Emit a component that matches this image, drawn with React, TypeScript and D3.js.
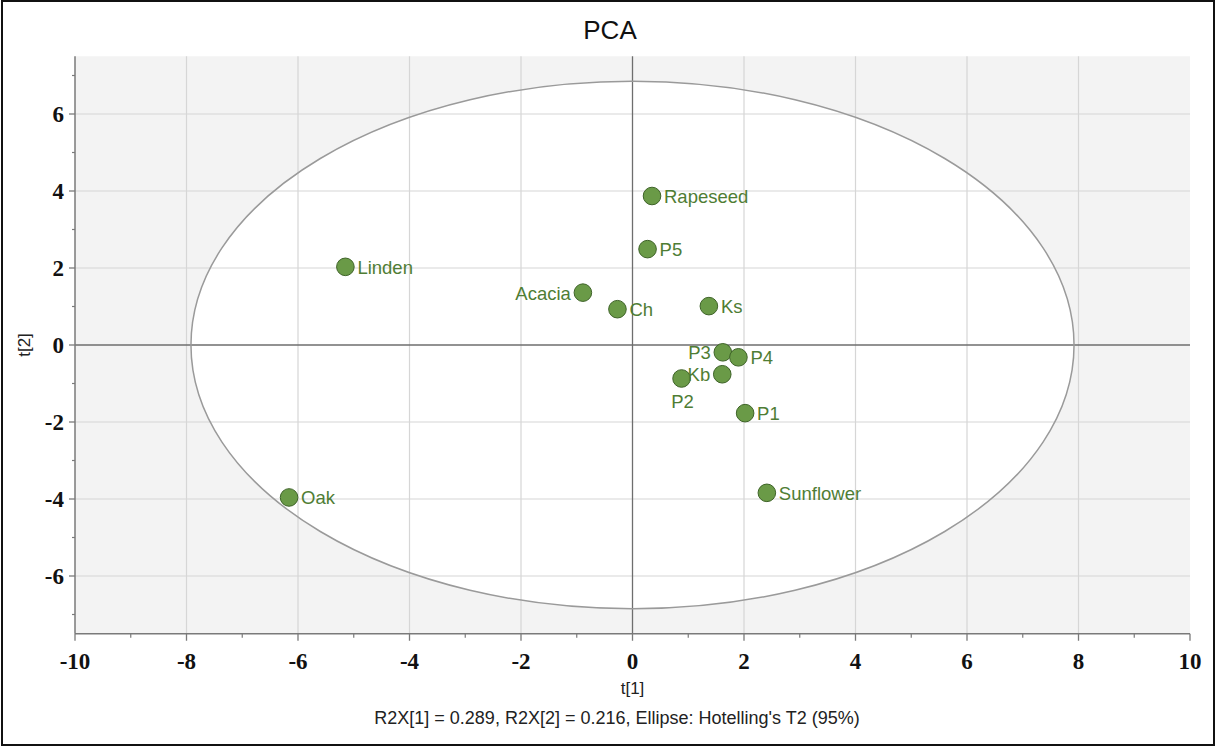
import React from "react";
import * as d3 from "d3";

const names = ["Rapeseed", "P5", "Linden", "Acacia", "Ch", "Ks", "P3", "P4", "Kb", "P2", "P1", "Sunflower", "Oak"];
const t1 = [0.35, 0.27, -5.15, -0.89, -0.27, 1.37, 1.62, 1.9, 1.61, 0.88, 2.02, 2.41, -6.16];
const t2 = [3.87, 2.49, 2.03, 1.36, 0.93, 1.01, -0.19, -0.32, -0.76, -0.87, -1.77, -3.84, -3.96];
const labelSide = ["right", "right", "right", "left", "right", "right", "left", "right", "left", "below", "right", "right", "right"];
const xTicks = [-10, -8, -6, -4, -2, 0, 2, 4, 6, 8, 10];
const yTicks = [-6, -4, -2, 0, 2, 4, 6];
const xMinor = [-9, -7, -5, -3, -1, 1, 3, 5, 7, 9];
const yMinor = [-7, -5, -3, -1, 1, 3, 5, 7];
const ellipseT1 = 7.92;
const ellipseT2 = 6.85;
const title = "PCA";
const xLabel = "t[1]";
const yLabel = "t[2]";
const footer = "R2X[1] = 0.289, R2X[2] = 0.216, Ellipse: Hotelling's T2 (95%)";

export default function App() {
  const W = 1216, H = 746;
  const left = 75, right = 1190, top = 56.25, bottom = 633.75;
  const x = d3.scaleLinear().domain([-10, 10]).range([left, right]);
  const y = d3.scaleLinear().domain([-7.5, 7.5]).range([bottom, top]);
  const sans = "'Liberation Sans', Arial, sans-serif";
  const serif = "'Liberation Serif', 'Times New Roman', serif";
  const green = "#6a9a47";
  const labelColor = "#4f7d34";
  const cx = x(0), cy = y(0);
  const rx = x(ellipseT1) - x(0);
  const ry = y(0) - y(ellipseT2);
  return (
    <svg width={W} height={H} style={{ position: "absolute", left: 0, top: 0, background: "#fff" }} fontFamily={sans}>
      <rect x={2} y={1} width={W - 4} height={H - 2} fill="#fff" stroke="#111" strokeWidth={2} />
      <text x={610} y={39} fontSize={26} textAnchor="middle" fill="#111">{title}</text>
      <rect x={left} y={top} width={right - left} height={bottom - top} fill="#f3f3f3" />
      <ellipse cx={cx} cy={cy} rx={rx} ry={ry} fill="#fff" />
      {xTicks.filter(v => v !== 0 && v !== -10 && v !== 10).map(v => (
        <line key={"gx" + v} x1={x(v)} x2={x(v)} y1={top} y2={bottom} stroke="#d6d6d6" strokeWidth={1.2} />
      ))}
      {yTicks.filter(v => v !== 0).map(v => (
        <line key={"gy" + v} x1={left} x2={right} y1={y(v)} y2={y(v)} stroke="#d6d6d6" strokeWidth={1.2} />
      ))}
      <line x1={x(0)} x2={x(0)} y1={top} y2={bottom} stroke="#6e6e6e" strokeWidth={1.3} />
      <line x1={left} x2={right} y1={y(0)} y2={y(0)} stroke="#6e6e6e" strokeWidth={1.3} />
      <ellipse cx={cx} cy={cy} rx={rx} ry={ry} fill="none" stroke="#9a9a9a" strokeWidth={1.5} />
      <line x1={left} x2={left} y1={top} y2={bottom} stroke="#7a7a7a" strokeWidth={1.5} />
      <line x1={left} x2={right} y1={bottom} y2={bottom} stroke="#7a7a7a" strokeWidth={1.5} />
      {yTicks.map(v => (
        <g key={"yt" + v}>
          <line x1={left - 6} x2={left} y1={y(v)} y2={y(v)} stroke="#7a7a7a" strokeWidth={1.3} />
          <text x={left - 11} y={y(v) + 8} fontFamily={serif} fontWeight="bold" fontSize={23} textAnchor="end" fill="#111">{v}</text>
        </g>
      ))}
      {yMinor.map(v => (
        <line key={"ym" + v} x1={left - 3} x2={left} y1={y(v)} y2={y(v)} stroke="#7a7a7a" strokeWidth={1.2} />
      ))}
      {xTicks.map(v => (
        <g key={"xt" + v}>
          <line x1={x(v)} x2={x(v)} y1={bottom} y2={bottom + 7} stroke="#7a7a7a" strokeWidth={1.3} />
          <text x={x(v)} y={bottom + 35} fontFamily={serif} fontWeight="bold" fontSize={23} textAnchor="middle" fill="#111">{v}</text>
        </g>
      ))}
      {xMinor.map(v => (
        <line key={"xm" + v} x1={x(v)} x2={x(v)} y1={bottom} y2={bottom + 4} stroke="#7a7a7a" strokeWidth={1.2} />
      ))}
      <text x={x(0)} y={694} fontSize={17} textAnchor="middle" fill="#222">{xLabel}</text>
      <text transform={`translate(30,${y(0)}) rotate(-90)`} fontSize={17} textAnchor="middle" fill="#222">{yLabel}</text>
      <text x={617} y={724} fontSize={18} textAnchor="middle" fill="#222">{footer}</text>
      {names.map((n, i) => (
        <circle key={"p" + n} cx={x(t1[i])} cy={y(t2[i])} r={8.8} fill={green} stroke="#3e6328" strokeWidth={1} />
      ))}
      {names.map((n, i) => {
        const px = x(t1[i]), py = y(t2[i]);
        const side = labelSide[i];
        if (side === "left") {
          return <text key={"l" + n} x={px - 12} y={py + 7} fontSize={18.5} textAnchor="end" fill={labelColor}>{n}</text>;
        }
        if (side === "below") {
          return <text key={"l" + n} x={px + 1} y={py + 30} fontSize={18.5} textAnchor="middle" fill={labelColor}>{n}</text>;
        }
        return <text key={"l" + n} x={px + 12} y={py + 7} fontSize={18.5} textAnchor="start" fill={labelColor}>{n}</text>;
      })}
    </svg>
  );
}
